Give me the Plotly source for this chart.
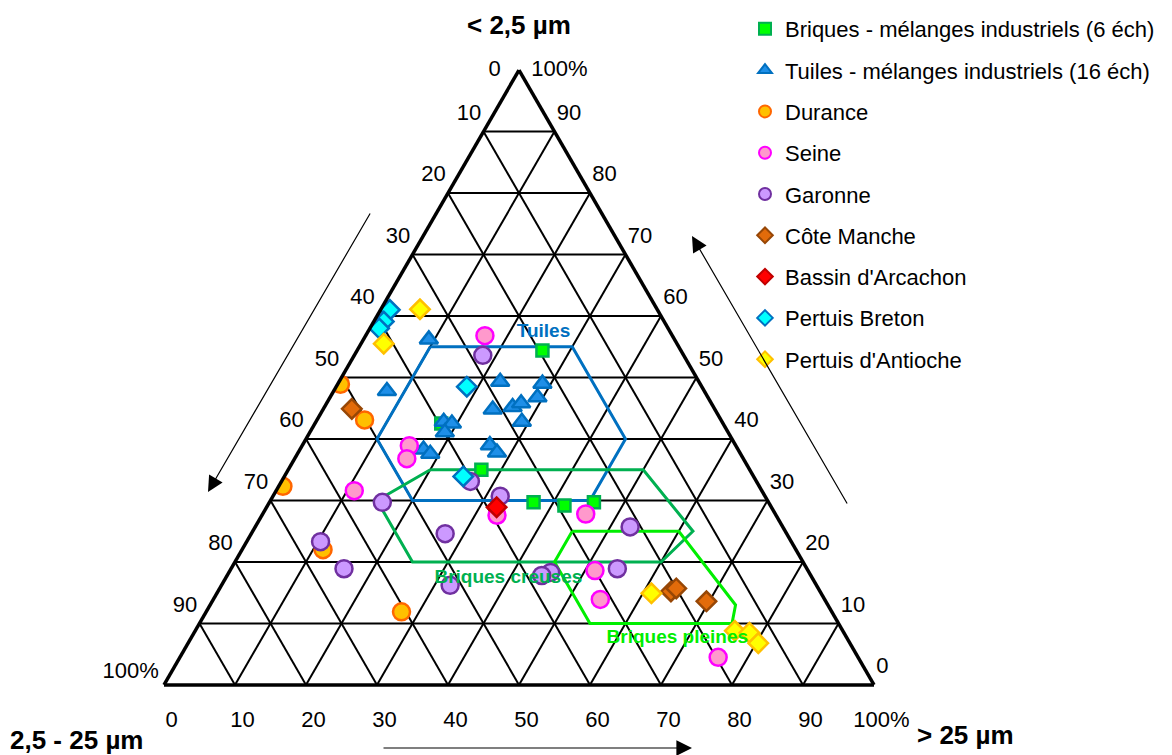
import plotly.graph_objects as go

FONT = "Liberation Sans, Arial, Helvetica, sans-serif"

# ---- axis ticks ----
TICK_VALUES = [0, 10, 20, 30, 40, 50, 60, 70, 80, 90, 100]
TICK_TEXT_ASC = ["0", "10", "20", "30", "40", "50", "60", "70", "80", "90", "100%"]
TICK_TEXT_DESC = ["100%", "90", "80", "70", "60", "50", "40", "30", "20", "10", "0"]

# anchor points (ternary a, b, c) of the edge tick labels, slid slightly up along each edge
LEFT_LABEL_A = [100, 92.8, 82.8, 72.8, 62.8, 52.8, 42.8, 32.8, 22.8, 12.8, 2]
LEFT_LABEL_B = [0, 7.2, 17.2, 27.2, 37.2, 47.2, 57.2, 67.2, 77.2, 87.2, 98]
LEFT_LABEL_C = [0, 0, 0, 0, 0, 0, 0, 0, 0, 0, 0]
RIGHT_LABEL_A = [2.8, 12.8, 22.8, 32.8, 42.8, 52.8, 62.8, 72.8, 82.8, 92.8, 100]
RIGHT_LABEL_B = [0, 0, 0, 0, 0, 0, 0, 0, 0, 0, 0]
RIGHT_LABEL_C = [97.2, 87.2, 77.2, 67.2, 57.2, 47.2, 37.2, 27.2, 17.2, 7.2, 0]

AXIS_TITLE_TOP = "< 2,5 µm"
AXIS_TITLE_LEFT = "2,5 - 25 µm"
AXIS_TITLE_RIGHT = "> 25 µm"

# ---- series : a = < 2,5 µm, b = 2,5 - 25 µm, c = > 25 µm (percent) ----
briques_a = [54.4, 42.5, 35.0, 29.7, 29.2, 29.7]
briques_b = [19.5, 39.7, 37.8, 33.1, 29.0, 24.6]
briques_c = [26.1, 17.8, 27.2, 37.2, 41.8, 45.7]

tuiles_a = [56.2, 47.8, 49.3, 49.0, 46.8, 44.8, 45.2, 45.8, 42.8, 42.8, 42.5, 41.1, 38.3, 37.6, 39.0, 37.8]
tuiles_b = [34.6, 44.7, 28.0, 22.2, 24.0, 31.3, 28.3, 26.8, 28.2, 39.2, 38.2, 39.9, 44.3, 43.7, 34.6, 34.2]
tuiles_c = [9.2, 7.5, 22.7, 28.8, 29.2, 23.9, 26.5, 27.4, 29.0, 18.0, 19.3, 19.0, 17.4, 18.7, 26.4, 28.0]

durance_a = [48.9, 43.1, 32.3, 22.0, 11.9]
durance_b = [50.7, 50.2, 67.1, 66.6, 60.6]
durance_c = [0.4, 6.7, 0.6, 11.4, 27.5]

seine_a = [56.8, 38.9, 36.8, 31.6, 27.6, 27.8, 18.6, 13.9, 4.5]
seine_b = [26.4, 46.0, 47.4, 57.4, 39.3, 26.7, 30.0, 31.6, 19.7]
seine_c = [16.8, 15.1, 15.8, 11.0, 33.1, 45.5, 51.4, 54.5, 75.8]

garonne_a = [53.6, 33.1, 30.7, 29.7, 23.3, 18.9, 24.6, 16.2, 25.7, 18.9, 18.3, 17.8]
garonne_b = [28.3, 40.3, 37.3, 54.4, 66.3, 65.2, 48.1, 51.6, 21.5, 26.7, 36.4, 37.9]
garonne_c = [18.1, 26.6, 32.0, 15.9, 10.4, 15.9, 27.3, 32.2, 52.8, 54.4, 45.3, 44.3]

manche_a = [44.9, 15.2, 15.7, 13.6]
manche_b = [51.1, 21.0, 20.0, 16.8]
manche_c = [4.0, 63.8, 64.3, 69.6]

arcachon_a = [28.9]
arcachon_b = [38.7]
arcachon_c = [32.4]

breton_a = [61.0, 59.1, 58.0, 48.5, 33.9]
breton_b = [37.7, 39.5, 40.7, 33.1, 40.9]
breton_c = [1.3, 1.4, 1.3, 18.4, 25.2]

antioche_a = [61.1, 55.5, 14.9, 8.8, 8.5, 6.8]
antioche_b = [33.4, 41.3, 23.9, 15.2, 13.3, 12.9]
antioche_c = [5.5, 3.2, 61.2, 76.0, 78.2, 80.3]

# ---- zones (closed polygons) ----
zone_tuiles_a = [55, 55, 40, 30, 30, 40, 55]
zone_tuiles_b = [35, 15, 15, 25, 50, 50, 35]
zone_tuiles_c = [10, 30, 45, 45, 20, 10, 10]

zone_creuses_a = [35, 35, 25, 20, 20, 30, 35]
zone_creuses_b = [45, 15, 13, 20, 55, 55, 45]
zone_creuses_c = [20, 50, 62, 60, 25, 15, 20]

zone_pleines_a = [25, 25, 13, 10, 10, 20, 25]
zone_pleines_b = [30, 15, 13, 15, 35, 35, 30]
zone_pleines_c = [45, 60, 74, 75, 55, 45, 45]

zone_labels = ["Tuiles", "Briques creuses", "Briques pleines"]
zone_label_a = [57.3, 17.4, 7.6]
zone_label_b = [17.9, 42.8, 23.9]
zone_label_c = [24.8, 39.8, 68.5]

fig = go.Figure()

zones = [
    (zone_tuiles_a, zone_tuiles_b, zone_tuiles_c, "#0070C0"),
    (zone_creuses_a, zone_creuses_b, zone_creuses_c, "#00B050"),
    (zone_pleines_a, zone_pleines_b, zone_pleines_c, "#00EE00"),
]
for za, zb, zc, col in zones:
    fig.add_trace(go.Scatterternary(a=za, b=zb, c=zc, mode="lines",
                                    line=dict(color=col, width=3),
                                    showlegend=False, hoverinfo="skip"))

series = [
    ("Briques - mélanges industriels (6 éch)", briques_a, briques_b, briques_c, "square", 12, "#00FF00", "#00B050"),
    ("Tuiles - mélanges industriels (16 éch)", tuiles_a, tuiles_b, tuiles_c, "triangle-up", 16, "#1E8FE8", "#0070C0"),
    ("Durance", durance_a, durance_b, durance_c, "circle", 17, "#FFC000", "#FF6600"),
    ("Seine", seine_a, seine_b, seine_c, "circle", 17, "#FF99CC", "#FF00FF"),
    ("Garonne", garonne_a, garonne_b, garonne_c, "circle", 17, "#CC99FF", "#7030A0"),
    ("Côte Manche", manche_a, manche_b, manche_c, "diamond", 15, "#E26B0A", "#974706"),
    ("Bassin d'Arcachon", arcachon_a, arcachon_b, arcachon_c, "diamond", 15, "#FF0000", "#C00000"),
    ("Pertuis Breton", breton_a, breton_b, breton_c, "diamond", 15, "#00FFFF", "#0070C0"),
    ("Pertuis d'Antioche", antioche_a, antioche_b, antioche_c, "diamond", 15, "#FFFF00", "#FFC000"),
]
for name, sa, sb, sc, sym, size, fill, border in series:
    fig.add_trace(go.Scatterternary(a=sa, b=sb, c=sc, mode="markers", name=name,
                                    legendgroup=name,
                                    marker=dict(symbol=sym, size=size, color=fill,
                                                line=dict(color=border, width=2.5))))

label_colors = ["#0070C0", "#00B050", "#00EE00"]
for i, txt in enumerate(zone_labels):
    fig.add_trace(go.Scatterternary(a=[zone_label_a[i]], b=[zone_label_b[i]], c=[zone_label_c[i]],
                                    mode="text", text=["<b>" + txt + "</b>"],
                                    textfont=dict(family=FONT, size=19, color=label_colors[i]),
                                    showlegend=False, hoverinfo="skip"))

# tick labels of the left edge (2,5 - 25 µm) and right edge (< 2,5 µm)
NBSP = "\u00a0"
left_text = ([TICK_TEXT_ASC[0] + NBSP * 3]
             + [t + NBSP * 2 for t in TICK_TEXT_ASC[1:]])
right_text = [NBSP * 2 + t for t in TICK_TEXT_ASC]
tick_font = dict(family=FONT, size=22, color="black")
fig.add_trace(go.Scatterternary(a=LEFT_LABEL_A, b=LEFT_LABEL_B, c=LEFT_LABEL_C,
                                mode="text", text=left_text, textposition="middle left",
                                textfont=tick_font, cliponaxis=False,
                                showlegend=False, hoverinfo="skip"))
fig.add_trace(go.Scatterternary(a=RIGHT_LABEL_A, b=RIGHT_LABEL_B, c=RIGHT_LABEL_C,
                                mode="text", text=right_text, textposition="middle right",
                                textfont=tick_font, cliponaxis=False,
                                showlegend=False, hoverinfo="skip"))

axis_style = dict(
    tickmode="array", tickvals=TICK_VALUES, ticktext=TICK_TEXT_DESC,
    ticks="", showticklabels=False,
    showgrid=True, gridcolor="black", gridwidth=1.5,
    showline=True, linecolor="black", linewidth=3.5,
    title=dict(text=""), min=0,
)
baxis_style = dict(axis_style, showticklabels=True, ticks="outside", ticklen=15,
                   tickcolor="rgba(0,0,0,0)", tickfont=tick_font)

# page is offset by the 8px body margin
W, H = 1164, 747


def px(x):
    return (x - 8) / W


def py(y):
    return 1 - (y - 8) / H


arrow = dict(showarrow=True, arrowhead=2, arrowsize=2.6, arrowwidth=1.2, arrowcolor="black",
             xref="paper", yref="paper", text="")

fig.update_layout(
    width=W, height=H,
    margin=dict(l=0, r=0, t=0, b=0),
    paper_bgcolor="white", plot_bgcolor="white",
    font=dict(family=FONT, size=22, color="black"),
    ternary=dict(sum=100, bgcolor="white",
                 domain=dict(x=[px(164), px(874)], y=[py(685), py(70)]),
                 aaxis=axis_style, baxis=baxis_style, caxis=axis_style),
    legend=dict(x=px(745), y=1.0, xanchor="left", yanchor="top", maxheight=1,
                font=dict(family=FONT, size=22, color="black"),
                tracegroupgap=9.7, traceorder="grouped", itemsizing="constant",
                bgcolor="rgba(0,0,0,0)"),
    annotations=[
        dict(text="<b>" + AXIS_TITLE_TOP + "</b>", x=px(519), y=1.0, xref="paper", yref="paper",
             xanchor="center", yanchor="top", showarrow=False, font=dict(family=FONT, size=26)),
        dict(text="<b>" + AXIS_TITLE_LEFT + "</b>", x=px(8), y=py(740), xref="paper", yref="paper",
             xanchor="left", yanchor="middle", showarrow=False, font=dict(family=FONT, size=26)),
        dict(text="<b>" + AXIS_TITLE_RIGHT + "</b>", x=px(915), y=py(735), xref="paper", yref="paper",
             xanchor="left", yanchor="middle", showarrow=False, font=dict(family=FONT, size=26)),
        dict(arrow, x=px(208), y=py(492), ax=163, ay=-280),
        dict(arrow, x=px(692), y=py(236), ax=156, ay=269),
        dict(arrow, x=px(692), y=py(748), ax=-310, ay=0),
    ],
)

fig.write_html("out.html")
